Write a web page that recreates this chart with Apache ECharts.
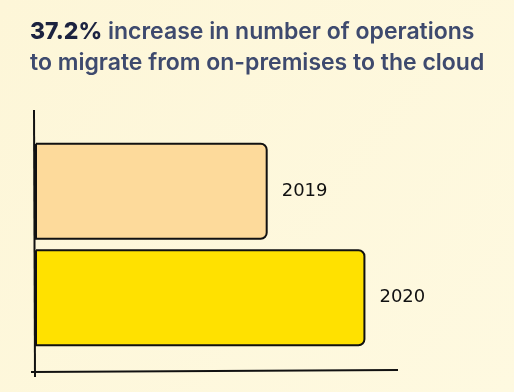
<!DOCTYPE html>
<html><head><meta charset="utf-8">
<script src="https://cdn.jsdelivr.net/npm/echarts@6/dist/echarts.min.js"></script>
<style>html,body{margin:0;padding:0;background:#fdf7d9;}#c{width:514px;height:392px;}</style>
</head><body><div id="c"></div>
<script>
const categories = ['2019', '2020'];
const values = [100, 142];
const barColors = ['#fdda9b', '#ffe100'];
const titleBold = '37.2%';
const titleRest1 = ' increase in number of operations';
const titleLine2 = 'to migrate from on-premises to the cloud';

const chart = echarts.init(document.getElementById('c'));
chart.setOption({
  backgroundColor: {type:'linear',x:0,y:0,x2:1,y2:1,colorStops:[{offset:0,color:'#fdf6d8'},{offset:1,color:'#fef9e0'}]},
  title: {
    text: '{b|' + titleBold + '}{r|' + titleRest1 + '}\n{r|' + titleLine2 + '}',
    left: 30, top: 17, padding: 0,
    textStyle: {
      rich: {
        b: {fontFamily:'Inter', fontSize:23, fontWeight:800, color:'#1c2340', lineHeight:31},
        r: {fontFamily:'Inter', fontSize:23, fontWeight:600, color:'#3e4a6e', lineHeight:31}
      }
    }
  },
  grid: {left: 35, right: 116, top: 138, bottom: 41},
  xAxis: {type:'value', min:0, max:156, show:false},
  yAxis: {type:'category', data: categories, inverse:true, show:false},
  graphic: [
    {type:'line', shape:{x1:34, y1:110, x2:35, y2:377}, style:{stroke:'#111', lineWidth:2}},
    {type:'line', shape:{x1:31, y1:372, x2:398, y2:370}, style:{stroke:'#111', lineWidth:2}}
  ],
  series: [{
    type:'bar',
    barWidth: 97,
    data: values.map((v,i)=>({value:v, itemStyle:{color:barColors[i]}})),
    itemStyle: {borderColor:'#111', borderWidth:2, borderRadius:[0,6,6,0]},
    label: {show:true, position:'right', distance:14, formatter: p => categories[p.dataIndex],
      fontFamily:'DejaVu Sans', fontSize:18, color:'#111'},
    silent:true, animation:false
  }],
  animation:false
});
</script></body></html>
